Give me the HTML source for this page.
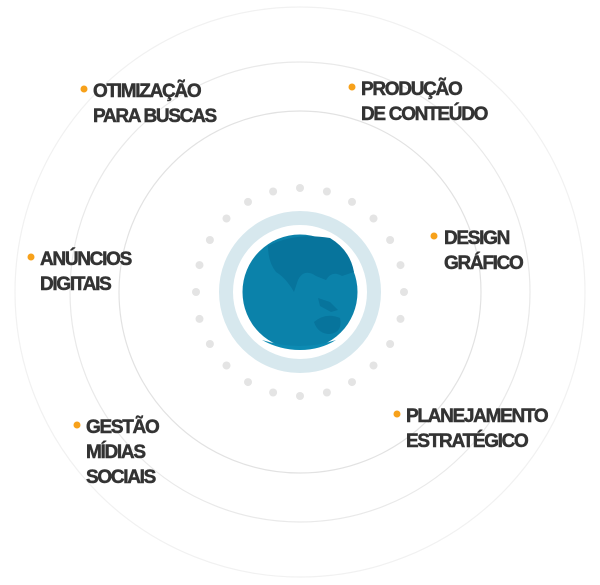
<!DOCTYPE html>
<html><head><meta charset="utf-8"><style>
html,body{margin:0;padding:0;background:#fff;}
svg{display:block}
text{font-family:"Liberation Sans",sans-serif;font-weight:bold;fill:#333;stroke:#333;stroke-width:0.5px;font-size:19px;letter-spacing:-1.3px}
</style></head><body>
<svg width="600" height="585" viewBox="0 0 600 585">
<g fill="none">
<circle cx="300" cy="292" r="285" stroke="#f1f1f1" stroke-width="1.2"/>
<circle cx="300" cy="292" r="230" stroke="#e9e9e9" stroke-width="1.2"/>
<circle cx="300" cy="292" r="181" stroke="#e2e2e2" stroke-width="1.2"/>
<circle cx="300" cy="292" r="74" stroke="#d7e8ee" stroke-width="14"/>
</g>
<g fill="#e4e4e4" id="dots"></g>
<circle cx="300" cy="292" r="57.5" fill="#0b82aa"/>
<g fill="#07749c">
<path d="M268 246 Q295 232 330 238 Q350 250 354 272 L342 276 Q332 270 326 280 L316 276 Q304 268 298 280 L294 292 Q286 278 276 272 Q268 262 268 246Z"/>
<path d="M318 298 l12 4 l8 8 l-7 2 l-11 -6z"/>
<path d="M314 322 Q326 312 340 318 Q343 332 330 334 Q318 334 314 322Z"/>
<path d="M262 340 Q300 352 336 340 Q320 350 300 350 Q280 350 262 340Z" fill="#0c8ab2"/>
</g>
<g fill="#f7a11a">
<circle cx="84" cy="89" r="3.5"/><circle cx="352" cy="87" r="3.5"/>
<circle cx="434" cy="236" r="3.5"/><circle cx="31" cy="257" r="3.5"/>
<circle cx="77" cy="425" r="3.5"/><circle cx="397" cy="414" r="3.5"/>
</g>
<text x="93" y="97">OTIMIZAÇÃO</text><text x="93" y="122">PARA BUSCAS</text>
<text x="361" y="95">PRODUÇÃO</text><text x="361" y="120">DE CONTEÚDO</text>
<text x="444" y="244">DESIGN</text><text x="444" y="269">GRÁFICO</text>
<text x="40" y="265">ANÚNCIOS</text><text x="40" y="290">DIGITAIS</text>
<text x="86" y="433">GESTÃO</text><text x="86" y="458">MÍDIAS</text><text x="86" y="483">SOCIAIS</text>
<text x="406" y="422">PLANEJAMENTO</text><text x="406" y="447">ESTRATÉGICO</text>
</svg>
<script>
var g=document.getElementById('dots');
for(var i=0;i<24;i++){var a=i*Math.PI/12;var c=document.createElementNS('http://www.w3.org/2000/svg','circle');
c.setAttribute('cx',(300+104*Math.sin(a)).toFixed(1));c.setAttribute('cy',(292-104*Math.cos(a)).toFixed(1));c.setAttribute('r','4');g.appendChild(c);}
</script>
</body></html>
